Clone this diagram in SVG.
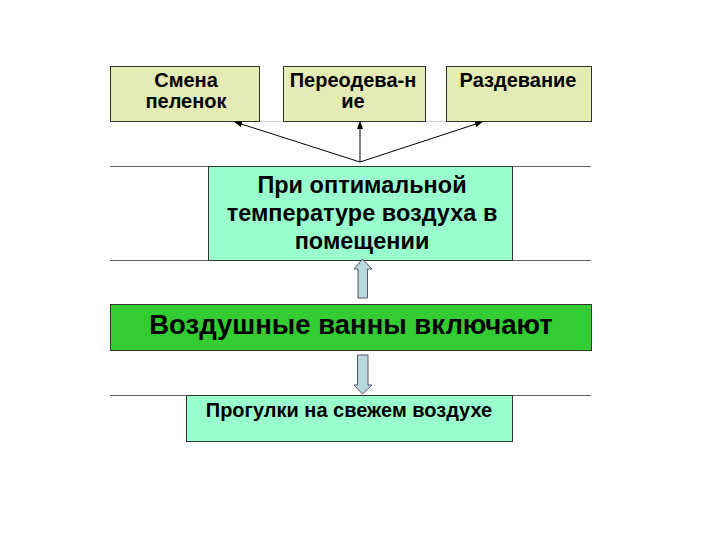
<svg xmlns="http://www.w3.org/2000/svg" width="720" height="540" viewBox="0 0 720 540">
<style>
.t{font-family:"Liberation Sans",Arial,sans-serif;font-weight:bold;fill:#000;text-anchor:middle}
.top{fill:#E4EBB4;stroke:#333;stroke-width:1}
.mid{fill:#99FFCC;stroke:#333;stroke-width:1}
.sep{stroke:#666;stroke-width:1}
.bigarrow{fill:#B8D8DE;stroke:#556;stroke-width:1}
.thin{stroke:#000;stroke-width:1;fill:none;marker-end:url(#ah)}
</style>
<defs>
<marker id="ah" markerWidth="8" markerHeight="6" refX="7" refY="3" orient="auto" markerUnits="userSpaceOnUse">
<path d="M0,0 L8,3 L0,6 Z" fill="#000"/>
</marker>
</defs>
<rect width="720" height="540" fill="#fff"/>
<g id="separators">
<line class="sep" x1="110" y1="121.5" x2="591" y2="121.5" stroke-opacity="0.3"/>
<line class="sep" x1="110" y1="166.5" x2="591" y2="166.5"/>
<line class="sep" x1="110" y1="260.5" x2="591" y2="260.5"/>
<line class="sep" x1="110" y1="395.5" x2="591" y2="395.5"/>
</g>
<g id="n1">
<rect class="top" x="110.5" y="66.5" width="149" height="55"/>
<text class="t" font-size="20" x="186" y="87">Смена</text>
<text class="t" font-size="20" x="186" y="108">пеленок</text>
</g>
<g id="n2">
<rect class="top" x="283.5" y="66.5" width="142" height="55"/>
<text class="t" font-size="20" x="353" y="87">Переодева-н</text>
<text class="t" font-size="20" x="353" y="108">ие</text>
</g>
<g id="n3">
<rect class="top" x="446.5" y="66.5" width="145" height="55"/>
<text class="t" font-size="20" x="518" y="87">Раздевание</text>
</g>
<g id="n4">
<rect class="mid" x="208.5" y="166.5" width="304" height="94"/>
<text class="t" font-size="23.5" x="362" y="193">При оптимальной</text>
<text class="t" font-size="23.5" x="362" y="221">температуре воздуха в</text>
<text class="t" font-size="23.5" x="362" y="249">помещении</text>
</g>
<g id="n5">
<rect x="110.5" y="304.5" width="481" height="46" fill="#33CC33" stroke="#333" stroke-width="1"/>
<text class="t" font-size="27.5" x="351" y="334">Воздушные ванны включают</text>
</g>
<g id="n6">
<rect class="mid" x="186.5" y="395.5" width="326" height="46"/>
<text class="t" font-size="20" x="349" y="417">Прогулки на свежем воздухе</text>
</g>
<g id="connectors">
<line class="thin" x1="360" y1="162" x2="235" y2="122"/>
<line class="thin" x1="360" y1="162" x2="360" y2="122"/>
<line class="thin" x1="360" y1="162" x2="482" y2="122"/>
<path class="bigarrow" d="M362.5,259 L372,269 L367.5,269 L367.5,298 L358,298 L358,269 L354,269 Z"/>
<path class="bigarrow" d="M357.5,355 L368,355 L368,385 L372,385 L362.5,394 L354,385 L357.5,385 Z"/>
</g>
</svg>
